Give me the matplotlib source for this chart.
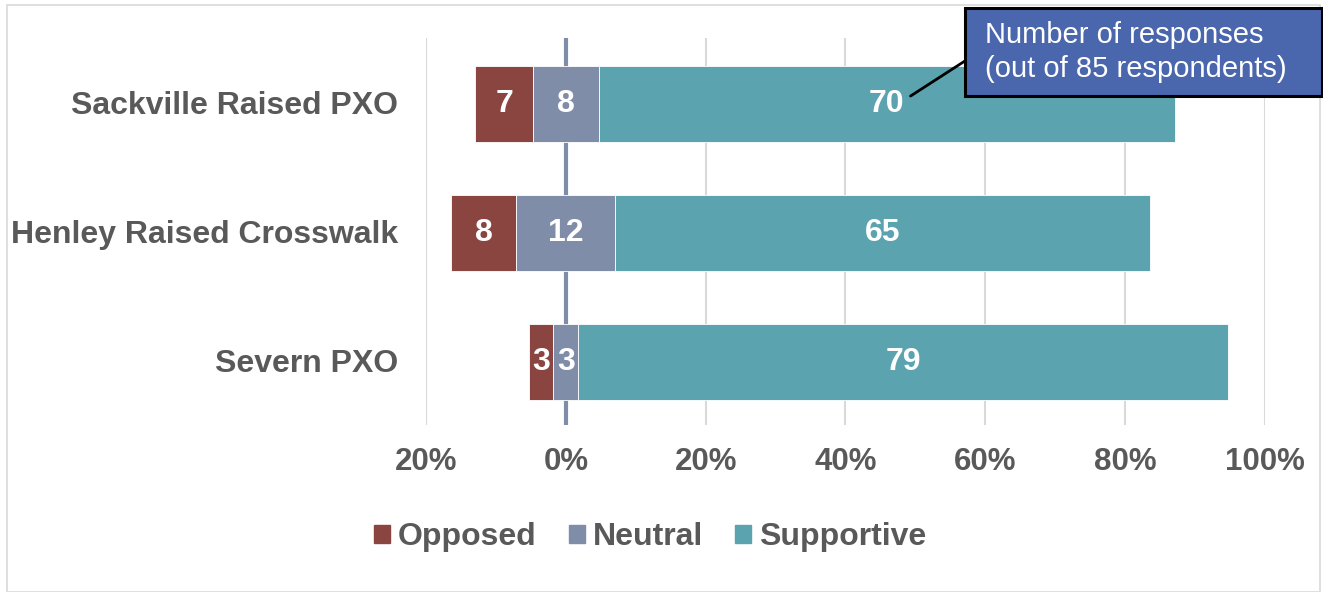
import matplotlib
matplotlib.use("Agg")
import matplotlib.pyplot as plt
from matplotlib.patches import Rectangle, Patch
from matplotlib.ticker import FuncFormatter
import numpy as np

# data: number of responses out of 85 respondents
categories = ["Sackville Raised PXO", "Henley Raised Crosswalk", "Severn PXO"]
opposed = [7, 8, 3]
neutral = [8, 12, 3]
supportive = [70, 65, 79]
total = 85
ticks = [-20, 0, 20, 40, 60, 80, 100]

c_opp = "#8A4540"
c_neu = "#7F8DA8"
c_sup = "#5BA3AE"
grey = "#595959"
fnt = "Liberation Sans"

plt.rcParams["font.family"] = [fnt, "DejaVu Sans"]

W, H = 1323, 592
fig = plt.figure(figsize=(W / 100, H / 100), dpi=100)
ax = fig.add_axes([426 / W, 1 - 425 / H, (1265 - 426) / W, (425 - 38) / H])

y = np.arange(len(categories))
opp = np.array(opposed) / total * 100
neu = np.array(neutral) / total * 100
sup = np.array(supportive) / total * 100

left_opp = -neu / 2 - opp
left_neu = -neu / 2
left_sup = neu / 2

h = 0.59
ax.axvline(0, color=c_neu, lw=3, zorder=1)
ax.barh(y + 0.015, opp, left=left_opp, height=h, color=c_opp, edgecolor="white", lw=0.6, zorder=2)
ax.barh(y + 0.015, neu, left=left_neu, height=h, color=c_neu, edgecolor="white", lw=0.6, zorder=2)
ax.barh(y + 0.015, sup, left=left_sup, height=h, color=c_sup, edgecolor="white", lw=0.6, zorder=2)

# value labels
for i in range(len(categories)):
    for left, w, n in [(left_opp[i], opp[i], opposed[i]),
                       (left_neu[i], neu[i], neutral[i]),
                       (left_sup[i], sup[i], supportive[i])]:
        ax.text(left + w / 2, y[i] + 0.015, str(n), ha="center", va="center",
                color="white", fontsize=23, fontweight="bold", zorder=3)

ax.set_xlim(-20, 100)
ax.set_ylim(2.5, -0.5)
ax.set_xticks(ticks)
ax.xaxis.set_major_formatter(FuncFormatter(lambda v, p: f"{abs(v):.0f}%"))
ax.set_yticks(y)
ax.set_yticklabels(categories)
ax.tick_params(axis="x", length=0, pad=16, labelsize=22.5, labelcolor=grey)
ax.tick_params(axis="y", length=0, pad=20, labelsize=23, labelcolor=grey)
for lab in ax.get_xticklabels() + ax.get_yticklabels():
    lab.set_fontweight("bold")
ax.grid(axis="x", color="#D9D9D9", lw=1.5, zorder=0)
ax.set_axisbelow(True)
for s in ax.spines.values():
    s.set_visible(False)

# legend
handles = [Patch(color=c_opp, label="Opposed"),
           Patch(color=c_neu, label="Neutral"),
           Patch(color=c_sup, label="Supportive")]
fig.legend(handles=handles, loc="center", bbox_to_anchor=(650 / W, 1 - 537 / H),
           ncol=3, frameon=False, handlelength=0.5, handleheight=0.5,
           handletextpad=0.25, columnspacing=1.0,
           prop={"family": fnt, "weight": "bold", "size": 23}, labelcolor=grey)

# callout box
ax.annotate("", xy=(49.3, -0.05), xycoords="data",
            xytext=(968, H - 59), textcoords="figure pixels",
            arrowprops=dict(arrowstyle="-", color="black", lw=2, shrinkA=0, shrinkB=0))
fig.patches.append(Rectangle((965 / W, 1 - 96 / H), 357 / W, 88 / H,
                             transform=fig.transFigure, facecolor="#4A66AC",
                             edgecolor="black", lw=2.2, zorder=5))
fig.text(985 / W, 1 - 52 / H, "Number of responses\n(out of 85 respondents)",
         ha="left", va="center", color="white", fontsize=21, zorder=6,
         linespacing=1.25)

# outer border
fig.patches.append(Rectangle((7 / W, 0), 1313 / W, (H - 5) / H,
                             transform=fig.transFigure, fill=False,
                             edgecolor="#D9D9D9", lw=1.2, zorder=0))

fig.savefig("out.png", dpi=100)
